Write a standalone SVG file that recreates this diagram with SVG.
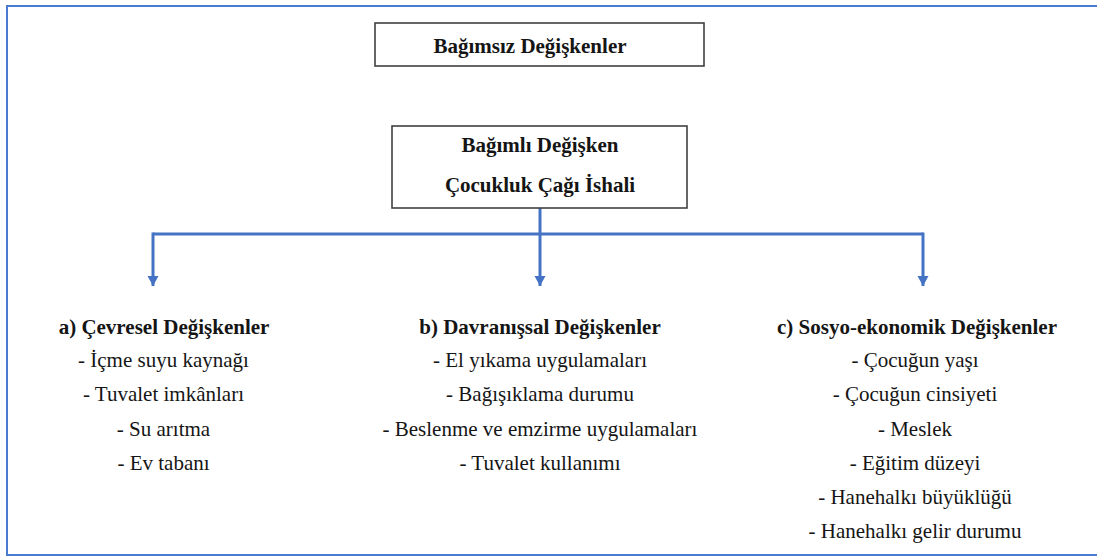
<svg xmlns="http://www.w3.org/2000/svg" width="1097" height="559" viewBox="0 0 1097 559">
<defs>
<style>
text{font-family:'Liberation Serif','Times New Roman',serif;font-size:21px;fill:#151515;text-anchor:middle}
.b{font-weight:bold}
.box{fill:#fff;stroke:#404040;stroke-width:1.6}
.conn{fill:none;stroke:#4472C4;stroke-width:3}
</style>
<marker id="arr" markerUnits="userSpaceOnUse" markerWidth="12" markerHeight="12" refX="10" refY="6" orient="auto" viewBox="0 0 12 12">
<path d="M0,0.5 L10,6 L0,11.5 Z" fill="#4472C4"/>
</marker>
</defs>
<rect x="0" y="0" width="1097" height="559" fill="#fff"/>
<rect x="7" y="6" width="1100" height="549" fill="none" stroke="#4a7bd0" stroke-width="2"/>
<g id="connectors">
<path class="conn" d="M540,208 L540,286" marker-end="url(#arr)"/>
<path class="conn" d="M153,234 L923,234"/>
<path class="conn" d="M153,232.5 L153,286" marker-end="url(#arr)"/>
<path class="conn" d="M923,232.5 L923,286" marker-end="url(#arr)"/>
</g>
<g id="node-bagimsiz">
<rect class="box" x="375" y="23" width="329" height="43"/>
<text class="b" x="530" y="53">Bağımsız Değişkenler</text>
</g>
<g id="node-bagimli">
<rect class="box" x="392" y="126" width="295" height="82"/>
<text class="b" x="540" y="152">Bağımlı Değişken</text>
<text class="b" x="540" y="192">Çocukluk Çağı İshali</text>
</g>
<g id="node-cevresel">
<text class="b" x="164" y="334">a) Çevresel Değişkenler</text>
<text x="163.5" y="367">- İçme suyu kaynağı</text>
<text x="163.5" y="401">- Tuvalet imkânları</text>
<text x="163.5" y="436">- Su arıtma</text>
<text x="163.5" y="470">- Ev tabanı</text>
</g>
<g id="node-davranissal">
<text class="b" x="540" y="334">b) Davranışsal Değişkenler</text>
<text x="540" y="367">- El yıkama uygulamaları</text>
<text x="540" y="401">- Bağışıklama durumu</text>
<text x="540" y="436">- Beslenme ve emzirme uygulamaları</text>
<text x="540" y="470">- Tuvalet kullanımı</text>
</g>
<g id="node-sosyoekonomik">
<text class="b" x="917" y="334">c) Sosyo-ekonomik Değişkenler</text>
<text x="915" y="367">- Çocuğun yaşı</text>
<text x="915" y="401">- Çocuğun cinsiyeti</text>
<text x="915" y="436">- Meslek</text>
<text x="915" y="470">- Eğitim düzeyi</text>
<text x="915" y="504">- Hanehalkı büyüklüğü</text>
<text x="915" y="538">- Hanehalkı gelir durumu</text>
</g>
</svg>
